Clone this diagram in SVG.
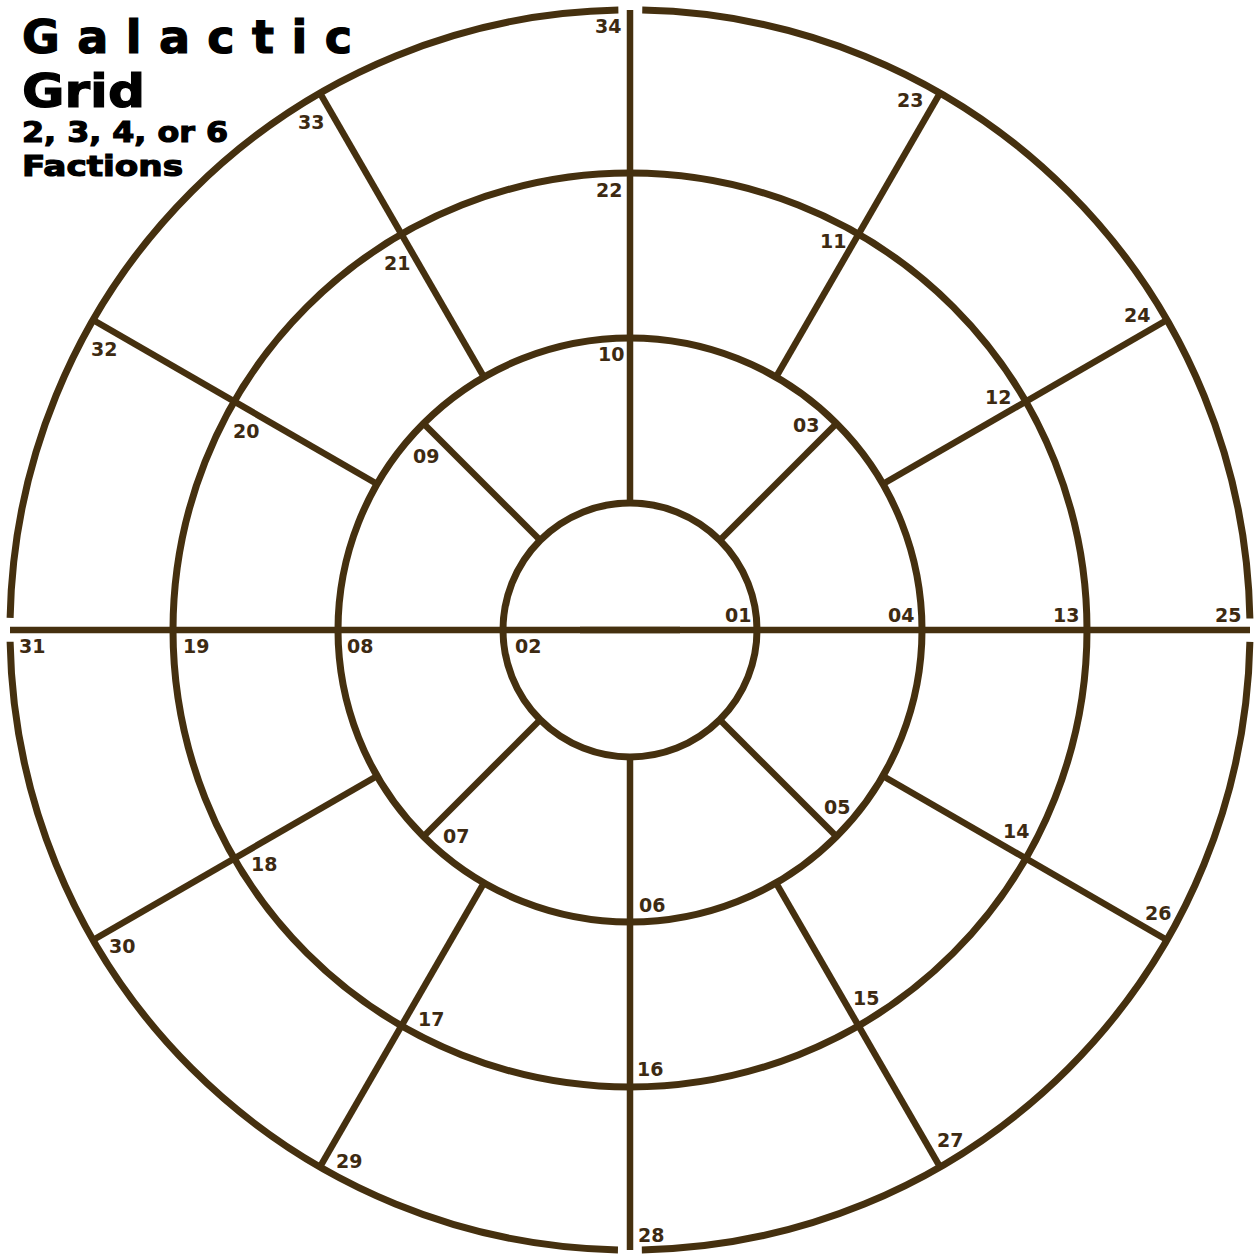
<svg xmlns="http://www.w3.org/2000/svg" width="1255" height="1258" viewBox="0 0 1255 1258">
<style>
.ring{fill:none;stroke:#45300f;stroke-width:7}
.sp{stroke:#45300f;stroke-width:6.5;stroke-linecap:butt}
.lb{font-family:"DejaVu Sans","Liberation Sans",sans-serif;font-weight:bold;font-size:19px;fill:#3d2a12}
.ti{font-family:"DejaVu Sans","Liberation Sans",sans-serif;font-weight:bold;fill:#000;stroke:#000;stroke-width:1.2}
</style>
<rect width="1255" height="1258" fill="#fff"/>
<g id="title">
<text class="ti" x="22" y="53" font-size="46" textLength="330" lengthAdjust="spacing">Galactic</text>
<text class="ti" x="22" y="107" font-size="46" textLength="123" lengthAdjust="spacingAndGlyphs">Grid</text>
<text class="ti" x="22" y="142" font-size="28" textLength="206" lengthAdjust="spacingAndGlyphs">2, 3, 4, or 6</text>
<text class="ti" x="22" y="176" font-size="28" textLength="161" lengthAdjust="spacingAndGlyphs">Factions</text>
</g>
<g id="rings">
<circle id="ring1" class="ring" cx="630" cy="630" r="127"/>
<circle id="ring2" class="ring" cx="630" cy="630" r="292"/>
<circle id="ring3" class="ring" cx="630" cy="630" r="457"/>
<circle id="ring4" class="ring" cx="630" cy="630" r="620" stroke-dasharray="949.9 24" stroke-dashoffset="961.9"/>
</g>
<g id="connectors">
<line class="sp" x1="630" y1="503" x2="630" y2="10"/>
<line class="sp" x1="630" y1="757" x2="630" y2="1250"/>
<line class="sp" x1="10" y1="630" x2="1250" y2="630"/>
<line class="sp" x1="580" y1="630" x2="680" y2="630" stroke-width="8"/>
<line class="sp" x1="719.8" y1="540.2" x2="836.5" y2="423.5"/>
<line class="sp" x1="540.2" y1="540.2" x2="423.5" y2="423.5"/>
<line class="sp" x1="540.2" y1="719.8" x2="423.5" y2="836.5"/>
<line class="sp" x1="719.8" y1="719.8" x2="836.5" y2="836.5"/>
<line class="sp" x1="882.9" y1="484" x2="1166.9" y2="320"/>
<line class="sp" x1="776" y1="377.1" x2="940" y2="93.1"/>
<line class="sp" x1="484" y1="377.1" x2="320" y2="93.1"/>
<line class="sp" x1="377.1" y1="484" x2="93.1" y2="320"/>
<line class="sp" x1="377.1" y1="776" x2="93.1" y2="940"/>
<line class="sp" x1="484" y1="882.9" x2="320" y2="1166.9"/>
<line class="sp" x1="776" y1="882.9" x2="940" y2="1166.9"/>
<line class="sp" x1="882.9" y1="776" x2="1166.9" y2="940"/>
</g>
<g id="labels">
<text class="lb" x="595" y="33">34</text>
<text class="lb" x="897" y="107">23</text>
<text class="lb" x="298" y="129">33</text>
<text class="lb" x="596" y="197">22</text>
<text class="lb" x="820" y="248">11</text>
<text class="lb" x="384" y="270">21</text>
<text class="lb" x="1124" y="322">24</text>
<text class="lb" x="91" y="356">32</text>
<text class="lb" x="598" y="361">10</text>
<text class="lb" x="985" y="404">12</text>
<text class="lb" x="793" y="432">03</text>
<text class="lb" x="233" y="438">20</text>
<text class="lb" x="413" y="463">09</text>
<text class="lb" x="725" y="622">01</text>
<text class="lb" x="888" y="622">04</text>
<text class="lb" x="1053" y="622">13</text>
<text class="lb" x="1215" y="622">25</text>
<text class="lb" x="19" y="653">31</text>
<text class="lb" x="183" y="653">19</text>
<text class="lb" x="347" y="653">08</text>
<text class="lb" x="515" y="653">02</text>
<text class="lb" x="824" y="814">05</text>
<text class="lb" x="1003" y="838">14</text>
<text class="lb" x="443" y="843">07</text>
<text class="lb" x="251" y="871">18</text>
<text class="lb" x="639" y="912">06</text>
<text class="lb" x="1145" y="920">26</text>
<text class="lb" x="109" y="953">30</text>
<text class="lb" x="853" y="1005">15</text>
<text class="lb" x="418" y="1026">17</text>
<text class="lb" x="637" y="1076">16</text>
<text class="lb" x="937" y="1147">27</text>
<text class="lb" x="336" y="1168">29</text>
<text class="lb" x="638" y="1242">28</text>
</g>
</svg>
